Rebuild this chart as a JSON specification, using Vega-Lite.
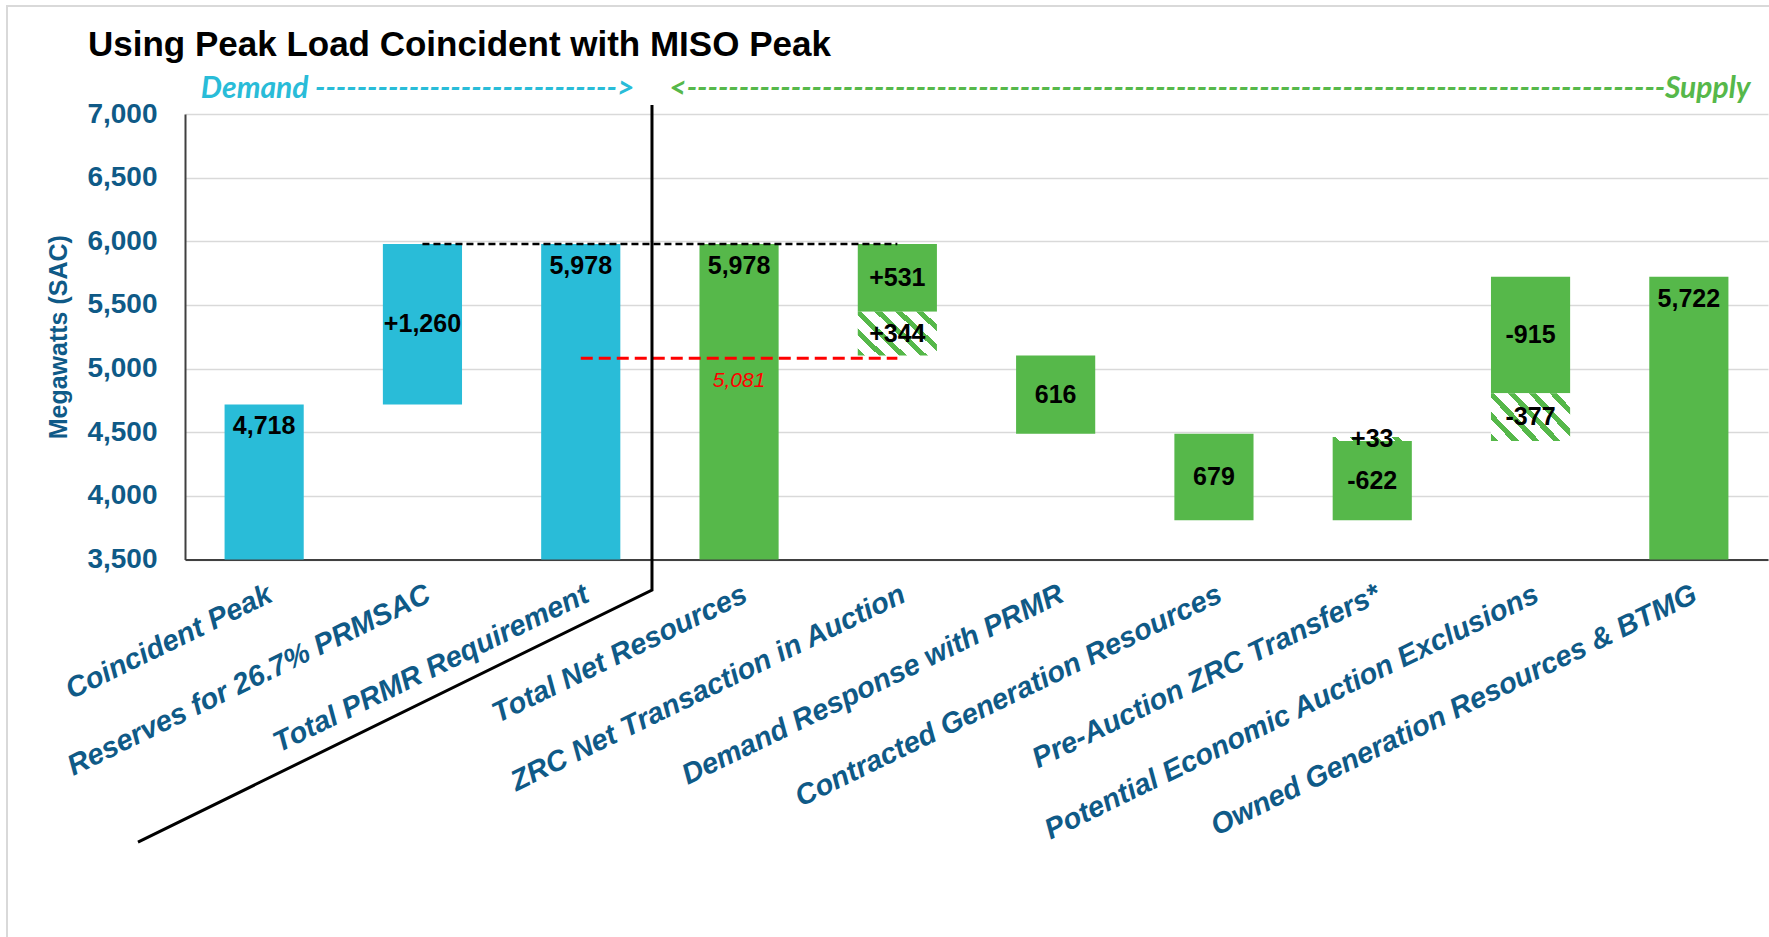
{
  "$schema": "https://vega.github.io/schema/vega-lite/v6.json",
  "width": 1583,
  "height": 445.5,
  "autosize": {"type": "none"},
  "padding": {"left": 185, "top": 114, "right": 1, "bottom": 377.5},
  "background": "white",
  "config": {"view": {"stroke": null}, "font": "Liberation Sans", "numberFormat": ","},
  "datasets": {
    "bars": [
      {"cat": "Coincident Peak", "lo": 0, "hi": 4718, "kind": "Demand"},
      {"cat": "Reserves for 26.7% PRMSAC", "lo": 4718, "hi": 5978, "kind": "Demand"},
      {"cat": "Total PRMR Requirement", "lo": 0, "hi": 5978, "kind": "Demand"},
      {"cat": "Total Net Resources", "lo": 0, "hi": 5978, "kind": "Supply"},
      {"cat": "ZRC Net Transaction in Auction", "lo": 5447, "hi": 5978, "kind": "Supply"},
      {"cat": "ZRC Net Transaction in Auction", "lo": 5103, "hi": 5447, "kind": "Hatched"},
      {"cat": "Demand Response with PRMR", "lo": 4487, "hi": 5103, "kind": "Supply"},
      {"cat": "Contracted Generation Resources", "lo": 3808, "hi": 4487, "kind": "Supply"},
      {"cat": "Pre-Auction ZRC Transfers*", "lo": 3808, "hi": 4430, "kind": "Supply"},
      {"cat": "Pre-Auction ZRC Transfers*", "lo": 4430, "hi": 4463, "kind": "Hatched"},
      {"cat": "Potential Economic Auction Exclusions", "lo": 4807, "hi": 5722, "kind": "Supply"},
      {"cat": "Potential Economic Auction Exclusions", "lo": 4430, "hi": 4807, "kind": "Hatched"},
      {"cat": "Owned Generation Resources & BTMG", "lo": 0, "hi": 5722, "kind": "Supply"}
    ],
    "labels": [
      {"cat": "Coincident Peak", "y": 4718, "text": "4,718", "pos": "top"},
      {"cat": "Reserves for 26.7% PRMSAC", "y": 5348, "text": "+1,260", "pos": "mid"},
      {"cat": "Total PRMR Requirement", "y": 5978, "text": "5,978", "pos": "top"},
      {"cat": "Total Net Resources", "y": 5978, "text": "5,978", "pos": "top"},
      {"cat": "ZRC Net Transaction in Auction", "y": 5712, "text": "+531", "pos": "mid"},
      {"cat": "ZRC Net Transaction in Auction", "y": 5275, "text": "+344", "pos": "mid"},
      {"cat": "Demand Response with PRMR", "y": 4795, "text": "616", "pos": "mid"},
      {"cat": "Contracted Generation Resources", "y": 4147, "text": "679", "pos": "mid"},
      {"cat": "Pre-Auction ZRC Transfers*", "y": 4447, "text": "+33", "pos": "mid"},
      {"cat": "Pre-Auction ZRC Transfers*", "y": 4119, "text": "-622", "pos": "mid"},
      {"cat": "Potential Economic Auction Exclusions", "y": 5264, "text": "-915", "pos": "mid"},
      {"cat": "Potential Economic Auction Exclusions", "y": 4618, "text": "-377", "pos": "mid"},
      {"cat": "Owned Generation Resources & BTMG", "y": 5722, "text": "5,722", "pos": "top"}
    ],
    "refs": [
      {"from": "Reserves for 26.7% PRMSAC", "to": "ZRC Net Transaction in Auction", "y": 5978, "kind": "requirement", "text": ""},
      {"from": "Total PRMR Requirement", "to": "ZRC Net Transaction in Auction", "y": 5081, "kind": "red", "text": "5,081"}
    ],
    "divider": [
      {"x": 2.95, "y": 7071, "o": 1},
      {"x": 2.95, "y": 3260, "o": 2},
      {"x": -0.297, "y": 1280, "o": 3}
    ],
    "frame": [
      {"x": -1.1245, "y": 533, "o": 1},
      {"x": -1.1245, "y": 7849, "o": 2},
      {"x": 10.01, "y": 7849, "o": 3}
    ],
    "headers": [
      {"x": -0.613, "y": 7452, "text": "Using Peak Load Coincident with MISO Peak", "side": "Title"},
      {"x": 0.1, "y": 7196, "text": "Demand ----------------------------->", "side": "Demand"},
      {"x": 9.89, "y": 7196, "text": "<----------------------------------------------------------------------------------------------Supply", "side": "Supply"}
    ]
  },
  "resolve": {"scale": {"x": "independent"}},
  "layer": [
    {
      "data": {"name": "bars"},
      "transform": [{"filter": "datum.kind !== 'Hatched'"}],
      "mark": {"type": "bar", "clip": true},
      "encoding": {
        "x": {
          "field": "cat", "type": "nominal", "title": null,
          "scale": {"domain": ["Coincident Peak", "Reserves for 26.7% PRMSAC", "Total PRMR Requirement", "Total Net Resources", "ZRC Net Transaction in Auction", "Demand Response with PRMR", "Contracted Generation Resources", "Pre-Auction ZRC Transfers*", "Potential Economic Auction Exclusions", "Owned Generation Resources & BTMG"], "paddingInner": 0.5, "paddingOuter": 0.25},
          "axis": {"title": null, "orient": "bottom", "labelAngle": -26, "labelAlign": "right", "labelBaseline": "top", "labelPadding": 20, "labelFont": "Liberation Sans", "labelFontSize": 29, "labelFontWeight": "bold", "labelFontStyle": "italic", "labelColor": "#0F5A87", "ticks": false, "domainColor": "#404040", "domainWidth": 2, "labelLimit": 0, "labelOverlap": false, "grid": false}
        },
        "y": {
          "field": "lo", "type": "quantitative", "title": "Megawatts (SAC)",
          "scale": {"domain": [3500, 7000], "nice": false, "zero": false},
          "axis": {"values": [3500, 4000, 4500, 5000, 5500, 6000, 6500, 7000], "format": ",", "labelExpr": "format(datum.value, ',')", "grid": true, "gridColor": "#D9D9D9", "gridWidth": 1.5, "domainColor": "#404040", "domainWidth": 2, "ticks": false, "labelFont": "Liberation Sans", "labelFontSize": 28, "labelFontWeight": "bold", "labelColor": "#0F5A87", "labelPadding": 28, "titleFont": "Liberation Sans", "titleFontSize": 25, "titleFontWeight": "bold", "titleColor": "#0F5A87", "titleX": -127, "titleY": 222.75, "titleAngle": -90, "titleAlign": "center", "titleBaseline": "middle"}
        },
        "y2": {"field": "hi"},
        "color": {"field": "kind", "type": "nominal", "scale": {"domain": ["Demand", "Supply"], "range": ["#29BCD8", "#56B84A"]}, "legend": null}
      }
    },
    {
      "data": {"name": "bars"},
      "transform": [{"filter": "datum.kind === 'Hatched'"}],
      "mark": {"type": "bar"},
      "encoding": {
        "x": {"field": "cat", "type": "nominal", "title": null, "axis": null,
          "scale": {"domain": ["Coincident Peak", "Reserves for 26.7% PRMSAC", "Total PRMR Requirement", "Total Net Resources", "ZRC Net Transaction in Auction", "Demand Response with PRMR", "Contracted Generation Resources", "Pre-Auction ZRC Transfers*", "Potential Economic Auction Exclusions", "Owned Generation Resources & BTMG"], "paddingInner": 0.5, "paddingOuter": 0.25}},
        "y": {"field": "lo", "type": "quantitative", "title": "Megawatts (SAC)"},
        "y2": {"field": "hi"},
        "fill": {
          "condition": {"test": "datum.cat === 'Pre-Auction ZRC Transfers*'", "value": {"gradient": "linear", "x1": 0, "y1": 1, "x2": 1.05, "y2": 0.944, "stops": [
            {"offset": 0, "color": "#56B84A"}, {"offset": 0.0875, "color": "#56B84A"}, {"offset": 0.0875, "color": "white"}, {"offset": 0.25, "color": "white"},
            {"offset": 0.25, "color": "#56B84A"}, {"offset": 0.3375, "color": "#56B84A"}, {"offset": 0.3375, "color": "white"}, {"offset": 0.5, "color": "white"},
            {"offset": 0.5, "color": "#56B84A"}, {"offset": 0.5875, "color": "#56B84A"}, {"offset": 0.5875, "color": "white"}, {"offset": 0.75, "color": "white"},
            {"offset": 0.75, "color": "#56B84A"}, {"offset": 0.8375, "color": "#56B84A"}, {"offset": 0.8375, "color": "white"}, {"offset": 1, "color": "white"}
          ]}},
          "value": {"gradient": "linear", "x1": 0, "y1": 1, "x2": 1.1823, "y2": 0.3143, "stops": [
            {"offset": 0, "color": "#56B84A"}, {"offset": 0.058, "color": "#56B84A"}, {"offset": 0.058, "color": "white"}, {"offset": 0.1667, "color": "white"},
            {"offset": 0.1667, "color": "#56B84A"}, {"offset": 0.225, "color": "#56B84A"}, {"offset": 0.225, "color": "white"}, {"offset": 0.3333, "color": "white"},
            {"offset": 0.3333, "color": "#56B84A"}, {"offset": 0.3917, "color": "#56B84A"}, {"offset": 0.3917, "color": "white"}, {"offset": 0.5, "color": "white"},
            {"offset": 0.5, "color": "#56B84A"}, {"offset": 0.5583, "color": "#56B84A"}, {"offset": 0.5583, "color": "white"}, {"offset": 0.6667, "color": "white"},
            {"offset": 0.6667, "color": "#56B84A"}, {"offset": 0.725, "color": "#56B84A"}, {"offset": 0.725, "color": "white"}, {"offset": 0.8333, "color": "white"},
            {"offset": 0.8333, "color": "#56B84A"}, {"offset": 0.8917, "color": "#56B84A"}, {"offset": 0.8917, "color": "white"}, {"offset": 1, "color": "white"}
          ]}
        }
      }
    },
    {
      "data": {"name": "refs"},
      "transform": [{"filter": "datum.kind === 'requirement'"}],
      "mark": {"type": "rule", "color": "black", "strokeWidth": 2.5, "strokeDash": [7, 4]},
      "encoding": {
        "x": {"field": "from", "type": "nominal", "title": null, "axis": null,
          "scale": {"domain": ["Coincident Peak", "Reserves for 26.7% PRMSAC", "Total PRMR Requirement", "Total Net Resources", "ZRC Net Transaction in Auction", "Demand Response with PRMR", "Contracted Generation Resources", "Pre-Auction ZRC Transfers*", "Potential Economic Auction Exclusions", "Owned Generation Resources & BTMG"], "paddingInner": 0.5, "paddingOuter": 0.25}},
        "x2": {"field": "to"},
        "y": {"field": "y", "type": "quantitative", "title": "Megawatts (SAC)"}
      }
    },
    {
      "data": {"name": "refs"},
      "transform": [{"filter": "datum.kind === 'red'"}],
      "mark": {"type": "rule", "color": "#FF0000", "strokeWidth": 3, "strokeDash": [12, 6]},
      "encoding": {
        "x": {"field": "from", "type": "nominal", "title": null, "axis": null,
          "scale": {"domain": ["Coincident Peak", "Reserves for 26.7% PRMSAC", "Total PRMR Requirement", "Total Net Resources", "ZRC Net Transaction in Auction", "Demand Response with PRMR", "Contracted Generation Resources", "Pre-Auction ZRC Transfers*", "Potential Economic Auction Exclusions", "Owned Generation Resources & BTMG"], "paddingInner": 0.5, "paddingOuter": 0.25}},
        "x2": {"field": "to"},
        "y": {"field": "y", "type": "quantitative", "title": "Megawatts (SAC)"}
      }
    },
    {
      "data": {"values": [{"cat": "Total Net Resources", "y": 5081, "text": "5,081"}]},
      "mark": {"type": "text", "font": "Liberation Sans", "fontSize": 21, "fontStyle": "italic", "color": "#FF0000", "baseline": "middle", "dy": 23},
      "encoding": {
        "x": {"field": "cat", "type": "nominal", "title": null, "axis": null,
          "scale": {"domain": ["Coincident Peak", "Reserves for 26.7% PRMSAC", "Total PRMR Requirement", "Total Net Resources", "ZRC Net Transaction in Auction", "Demand Response with PRMR", "Contracted Generation Resources", "Pre-Auction ZRC Transfers*", "Potential Economic Auction Exclusions", "Owned Generation Resources & BTMG"], "paddingInner": 0.5, "paddingOuter": 0.25}},
        "y": {"field": "y", "type": "quantitative", "title": "Megawatts (SAC)"},
        "text": {"field": "text"}
      }
    },
    {
      "data": {"name": "labels"},
      "transform": [{"filter": "datum.pos === 'mid'"}],
      "mark": {"type": "text", "font": "Liberation Sans", "fontSize": 25, "fontWeight": "bold", "color": "black", "baseline": "middle"},
      "encoding": {
        "x": {"field": "cat", "type": "nominal", "title": null, "axis": null,
          "scale": {"domain": ["Coincident Peak", "Reserves for 26.7% PRMSAC", "Total PRMR Requirement", "Total Net Resources", "ZRC Net Transaction in Auction", "Demand Response with PRMR", "Contracted Generation Resources", "Pre-Auction ZRC Transfers*", "Potential Economic Auction Exclusions", "Owned Generation Resources & BTMG"], "paddingInner": 0.5, "paddingOuter": 0.25}},
        "y": {"field": "y", "type": "quantitative", "title": "Megawatts (SAC)"},
        "text": {"field": "text"}
      }
    },
    {
      "data": {"name": "labels"},
      "transform": [{"filter": "datum.pos === 'top'"}],
      "mark": {"type": "text", "font": "Liberation Sans", "fontSize": 25, "fontWeight": "bold", "color": "black", "baseline": "middle", "dy": 22},
      "encoding": {
        "x": {"field": "cat", "type": "nominal", "title": null, "axis": null,
          "scale": {"domain": ["Coincident Peak", "Reserves for 26.7% PRMSAC", "Total PRMR Requirement", "Total Net Resources", "ZRC Net Transaction in Auction", "Demand Response with PRMR", "Contracted Generation Resources", "Pre-Auction ZRC Transfers*", "Potential Economic Auction Exclusions", "Owned Generation Resources & BTMG"], "paddingInner": 0.5, "paddingOuter": 0.25}},
        "y": {"field": "y", "type": "quantitative", "title": "Megawatts (SAC)"},
        "text": {"field": "text"}
      }
    },
    {
      "data": {"name": "frame"},
      "mark": {"type": "line", "color": "#D9D9D9", "strokeWidth": 2, "clip": false},
      "encoding": {
        "x": {"field": "x", "type": "quantitative", "axis": null, "scale": {"domain": [0, 10], "nice": false, "zero": false}},
        "y": {"field": "y", "type": "quantitative", "title": "Megawatts (SAC)"},
        "order": {"field": "o"}
      }
    },
    {
      "data": {"name": "divider"},
      "mark": {"type": "line", "color": "black", "strokeWidth": 3, "clip": false},
      "encoding": {
        "x": {"field": "x", "type": "quantitative", "axis": null, "scale": {"domain": [0, 10], "nice": false, "zero": false}},
        "y": {"field": "y", "type": "quantitative", "title": "Megawatts (SAC)"},
        "order": {"field": "o"}
      }
    },
    {
      "data": {"name": "headers"},
      "transform": [{"filter": "datum.side === 'Title'"}],
      "mark": {"type": "text", "font": "Liberation Sans", "fontSize": 35, "fontWeight": "bold", "color": "black", "align": "left", "baseline": "alphabetic"},
      "encoding": {
        "x": {"field": "x", "type": "quantitative", "axis": null, "scale": {"domain": [0, 10], "nice": false, "zero": false}},
        "y": {"field": "y", "type": "quantitative", "title": "Megawatts (SAC)"},
        "text": {"field": "text"}
      }
    },
    {
      "data": {"name": "headers"},
      "transform": [{"filter": "datum.side === 'Demand'"}],
      "mark": {"type": "text", "font": "Lato", "fontSize": 30, "fontWeight": "bold", "fontStyle": "italic", "color": "#29BCD8", "align": "left", "baseline": "middle"},
      "encoding": {
        "x": {"field": "x", "type": "quantitative", "axis": null, "scale": {"domain": [0, 10], "nice": false, "zero": false}},
        "y": {"field": "y", "type": "quantitative", "title": "Megawatts (SAC)"},
        "text": {"field": "text"}
      }
    },
    {
      "data": {"name": "headers"},
      "transform": [{"filter": "datum.side === 'Supply'"}],
      "mark": {"type": "text", "font": "Lato", "fontSize": 30, "fontWeight": "bold", "fontStyle": "italic", "color": "#56B84A", "align": "right", "baseline": "middle"},
      "encoding": {
        "x": {"field": "x", "type": "quantitative", "axis": null, "scale": {"domain": [0, 10], "nice": false, "zero": false}},
        "y": {"field": "y", "type": "quantitative", "title": "Megawatts (SAC)"},
        "text": {"field": "text"}
      }
    }
  ]
}
